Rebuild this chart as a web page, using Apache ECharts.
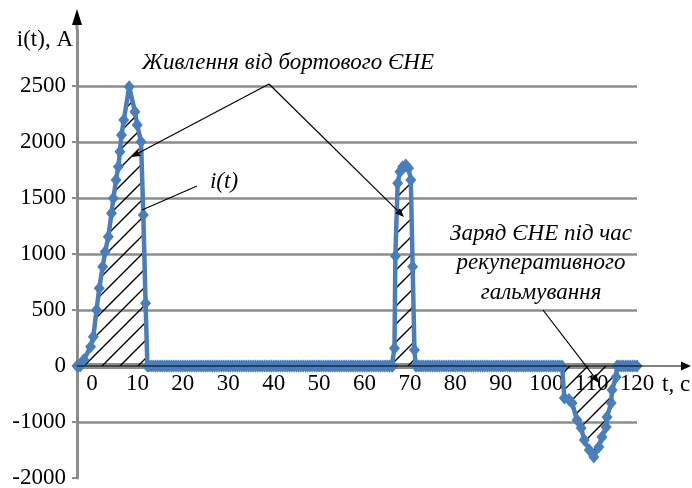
<!DOCTYPE html>
<html>
<head>
<meta charset="utf-8">
<script src="https://cdn.jsdelivr.net/npm/echarts@6/dist/echarts.min.js"></script>
<style>
html,body{margin:0;padding:0;background:#fff;}
#c{width:692px;height:488px;}
</style>
</head>
<body>
<div id="c"></div>
<script>
// ---- data (t in s, i in A) ----
const pulse1T = [-3.3, -3.0, -2.6, -1.8, -0.3, 0.3, 1.0, 1.6, 2.35, 2.9, 3.6, 4.3, 4.7, 5.3, 5.8, 6.15, 6.5, 7.0, 8.2, 9.45, 9.95, 10.8, 11.3, 11.8, 12.2];
const pulse1I = [0, 0, 0, 55, 172, 262, 500, 694, 887, 1021, 1155, 1363, 1497, 1661, 1780, 1914, 2062, 2196, 2494, 2271, 2152, 2003, 1348, 560, 0];
const flat1T = [
  12.5,13,13.5,14,14.5,15,15.5,16,16.5,17,17.5,18,18.5,19,19.5,20,
  20.5,21,21.5,22,22.5,23,23.5,24,24.5,25,25.5,26,26.5,27,27.5,28,
  28.5,29,29.5,30,30.5,31,31.5,32,32.5,33,33.5,34,34.5,35,35.5,36,
  36.5,37,37.5,38,38.5,39,39.5,40,40.5,41,41.5,42,42.5,43,43.5,44,
  44.5,45,45.5,46,46.5,47,47.5,48,48.5,49,49.5,50,50.5,51,51.5,52,
  52.5,53,53.5,54,54.5,55,55.5,56,56.5,57,57.5,58,58.5,59,59.5,60,
  60.5,61,61.5,62,62.5,63,63.5,64,64.5,65,65.5,66];
const flat1I = [
  0,0,0,0,0,0,0,0,0,0,0,0,0,0,0,0,
  0,0,0,0,0,0,0,0,0,0,0,0,0,0,0,0,
  0,0,0,0,0,0,0,0,0,0,0,0,0,0,0,0,
  0,0,0,0,0,0,0,0,0,0,0,0,0,0,0,0,
  0,0,0,0,0,0,0,0,0,0,0,0,0,0,0,0,
  0,0,0,0,0,0,0,0,0,0,0,0,0,0,0,0,
  0,0,0,0,0,0,0,0,0,0,0,0];
const pulse2T = [66.2, 66.6, 66.8, 67.3, 67.8, 68.4, 69.1, 69.7, 70.2, 70.6, 71.0, 71.3];
const pulse2I = [0, 158, 982, 1631, 1735, 1780, 1795, 1765, 1661, 887, 143, 0];
const flat2T = [
  71.5,72,72.5,73,73.5,74,74.5,75,75.5,76,76.5,77,77.5,78,78.5,79,
  79.5,80,80.5,81,81.5,82,82.5,83,83.5,84,84.5,85,85.5,86,86.5,87,
  87.5,88,88.5,89,89.5,90,90.5,91,91.5,92,92.5,93,93.5,94,94.5,95,
  95.5,96,96.5,97,97.5,98,98.5,99,99.5,100,100.5,101,101.5,102,102.5,103];
const flat2I = [
  0,0,0,0,0,0,0,0,0,0,0,0,0,0,0,0,
  0,0,0,0,0,0,0,0,0,0,0,0,0,0,0,0,
  0,0,0,0,0,0,0,0,0,0,0,0,0,0,0,0,
  0,0,0,0,0,0,0,0,0,0,0,0,0,0,0,0];
const pulse3T = [103.5, 104.0, 105.0, 105.7, 106.8, 107.7, 108.4, 109.5, 110.5, 111.6, 112.3, 113.2, 113.4, 114.3, 114.5, 115.4, 115.6];
const pulse3I = [0, -571, -600, -661, -964, -1107, -1321, -1500, -1625, -1446, -1268, -1089, -911, -661, -429, -196, 0];
const flat3T = [116, 116.5, 117, 117.5, 118, 118.5, 119, 119.5, 120];
const flat3I = [0, 0, 0, 0, 0, 0, 0, 0, 0];
const zeroBandT = [-3.3, 120];
const xTickLabels = [0, 10, 20, 30, 40, 50, 60, 70, 80, 90, 100, 110, 120];
const yTickLabels = [-2000, -1000, 0, 500, 1000, 1500, 2000, 2500];

// The picture's current axis is compressed below zero (1000 A there takes the
// space of 500 A above zero); this is that axis scale.
const NEG_FACTOR = 0.5;
const toAxis = v => (v < 0 ? v * NEG_FACTOR : v);
const fromAxis = v => (v < 0 ? v / NEG_FACTOR : v);

const timeAll = [].concat(pulse1T, flat1T, pulse2T, flat2T, pulse3T, flat3T);
const currentAll = [].concat(pulse1I, flat1I, pulse2I, flat2I, pulse3I, flat3I);

// ---- hatch pattern ----
function hatch() {
  const s = 18;
  const c = document.createElement('canvas');
  c.width = s; c.height = s;
  const g = c.getContext('2d');
  g.strokeStyle = '#000';
  g.lineWidth = 1.4;
  g.beginPath();
  g.moveTo(0, s); g.lineTo(s, 0);
  g.moveTo(-2, 2); g.lineTo(2, -2);
  g.moveTo(s - 2, s + 2); g.lineTo(s + 2, s - 2);
  g.stroke();
  return c;
}

const SERIF = '"Liberation Serif", "Times New Roman", serif';
const FS = 23;
const BLUE = '#4a7ebb';
const GRID_GREY = '#8c8c8c';

const GRID_TOP = 30, GRID_BOTTOM = 10, H = 488;
const Y_MIN = toAxis(-2000), Y_MAX = 3000;
// distance (px) from plot bottom up to the zero line, so the x axis sits on zero
const plotH = H - GRID_TOP - GRID_BOTTOM;
const zeroOffset = plotH * (0 - Y_MIN) / (Y_MAX - Y_MIN);

const chart = echarts.init(document.getElementById('c'), null, { renderer: 'canvas' });

const option = {
  backgroundColor: '#fff',
  animation: false,
  grid: { left: 77, right: 55, top: GRID_TOP, bottom: GRID_BOTTOM, outerBoundsMode: 'none', containLabel: false },
  xAxis: {
    type: 'value',
    min: -3.3,
    max: 120,
    position: 'bottom',
    offset: -zeroOffset,
    axisLine: { show: true, onZero: false, lineStyle: { color: '#000', width: 1.2 } },
    axisTick: { show: false },
    splitLine: { show: false },
    axisLabel: {
      customValues: xTickLabels,
      margin: 6,
      color: '#000',
      fontFamily: SERIF,
      fontSize: FS
    }
  },
  yAxis: {
    type: 'value',
    min: Y_MIN,
    max: Y_MAX,
    interval: 500,
    axisLine: { show: true, onZero: false, lineStyle: { color: GRID_GREY, width: 3 } },
    axisTick: { show: true, inside: false, length: 5, lineStyle: { color: GRID_GREY, width: 2 }, customValues: yTickLabels.map(toAxis) },
    splitLine: { show: true, showMinLine: false, lineStyle: { color: GRID_GREY, width: 2.5 } },
    axisLabel: {
      customValues: yTickLabels.map(toAxis),
      formatter: v => String(Math.round(fromAxis(v))),
      margin: 11,
      color: '#000',
      fontFamily: SERIF,
      fontSize: FS
    }
  },
  series: [
    {
      name: 'base',
      type: 'line',
      data: zeroBandT.map(t => [t, 0]),
      symbol: 'none',
      lineStyle: { color: GRID_GREY, width: 6 },
      silent: true,
      z: 1
    },
    {
      name: 'i(t)',
      type: 'line',
      data: timeAll.map((t, k) => [t, toAxis(currentAll[k])]),
      symbol: 'diamond',
      symbolSize: [11, 13],
      itemStyle: { color: BLUE },
      lineStyle: { color: BLUE, width: 4.5 },
      areaStyle: { color: { image: hatch(), repeat: 'repeat' }, opacity: 1 },
      z: 3
    }
  ]
};
chart.setOption(option);

// ---- annotations / axis arrows ----
function arrow(x1, y1, x2, y2) {
  const a = Math.atan2(y2 - y1, x2 - x1), L = 9, W = 3.5;
  const bx = x2 - L * Math.cos(a), by = y2 - L * Math.sin(a);
  const px = -Math.sin(a) * W, py = Math.cos(a) * W;
  return [
    { type: 'line', shape: { x1: x1, y1: y1, x2: bx, y2: by }, style: { stroke: '#000', lineWidth: 1.2 }, z: 100 },
    { type: 'polygon', shape: { points: [[x2, y2], [bx + px, by + py], [bx - px, by - py]] }, style: { fill: '#000' }, z: 100 }
  ];
}
const p0 = chart.convertToPixel({ gridIndex: 0 }, [-3.3, 0]);
const y0 = p0[1];
const xL = p0[0];
const g = [];
// x axis (black, with arrow) continued past the plot
g.push({ type: 'line', shape: { x1: xL, y1: y0, x2: 683, y2: y0 }, style: { stroke: '#000', lineWidth: 1.2 }, z: 100 });
g.push({ type: 'polygon', shape: { points: [[691, y0], [681, y0 - 4.5], [681, y0 + 4.5]] }, style: { fill: '#000' }, z: 100 });
// y axis top arrow
g.push({ type: 'line', shape: { x1: xL, y1: 30, x2: xL, y2: 22 }, style: { stroke: GRID_GREY, lineWidth: 3 }, z: 100 });
g.push({ type: 'polygon', shape: { points: [[xL, 9], [xL - 5, 25], [xL + 5, 25]] }, style: { fill: '#000' }, z: 100 });
// axis titles
g.push({ type: 'text', x: 73, y: 40, style: { text: 'i(t), A', font: FS + 'px ' + SERIF, fill: '#000', align: 'right', verticalAlign: 'middle' }, z: 100 });
g.push({ type: 'text', x: 662, y: 385, style: { text: 't, c', font: FS + 'px ' + SERIF, fill: '#000', align: 'left', verticalAlign: 'middle' }, z: 100 });
// annotation texts
g.push({ type: 'text', x: 288, y: 63, style: { text: 'Живлення від бортового ЄНЕ', font: 'italic ' + FS + 'px ' + SERIF, fill: '#000', align: 'center', verticalAlign: 'middle' }, z: 100 });
g.push({ type: 'text', x: 224, y: 182, style: { text: 'i(t)', font: 'italic ' + FS + 'px ' + SERIF, fill: '#000', align: 'center', verticalAlign: 'middle' }, z: 100 });
g.push({ type: 'text', x: 541, y: 263, style: { text: 'Заряд ЄНЕ під час\nрекуперативного\nгальмування', font: 'italic ' + FS + 'px ' + SERIF, lineHeight: 29.5, fill: '#000', align: 'center', verticalAlign: 'middle' }, z: 100 });
// leader lines
g.push.apply(g, arrow(269, 84, 131, 157));
g.push.apply(g, arrow(269, 84, 404, 217));
g.push({ type: 'line', shape: { x1: 197, y1: 186, x2: 142, y2: 210 }, style: { stroke: '#000', lineWidth: 1.2 }, z: 100 });
g.push.apply(g, arrow(543, 310, 599, 383));
chart.setOption({ graphic: g });
</script>
</body>
</html>
